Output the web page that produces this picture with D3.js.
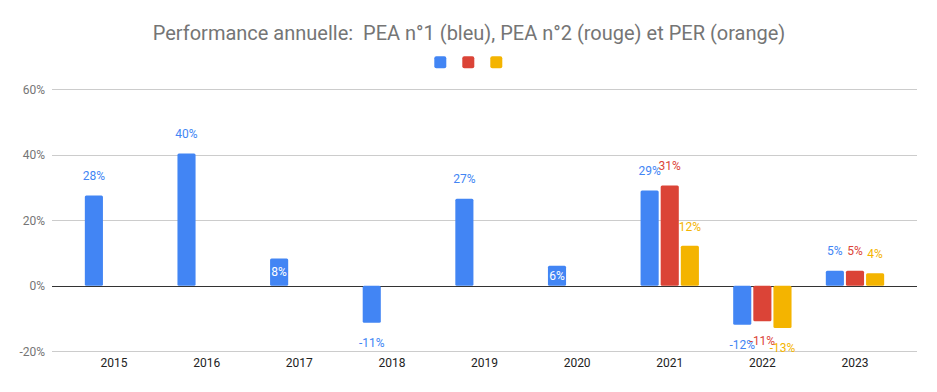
<!DOCTYPE html>
<html><head><meta charset="utf-8">
<script src="https://cdn.jsdelivr.net/npm/d3@7"></script>
<style>body{margin:0;background:#fff}svg{display:block;font-family:Roboto,Arial,sans-serif}</style>
</head><body><svg id="c" width="937" height="392"></svg>
<script>
const years = ["2015","2016","2017","2018","2019","2020","2021","2022","2023"];
const pea1 = [0.276, 0.404, 0.083, -0.113, 0.266, 0.061, 0.291, -0.119, 0.046];
const pea2 = [null, null, null, null, null, null, 0.306, -0.108, 0.046];
const per  = [null, null, null, null, null, null, 0.122, -0.129, 0.038];
const seriesNames = ["PEA n°1", "PEA n°2", "PER"];
const yTicks = [-0.2, 0, 0.2, 0.4, 0.6];
const title = "Performance annuelle:  PEA n°1 (bleu), PEA n°2 (rouge) et PER (orange)";

const colors = ["#4285F4", "#DB4437", "#F4B400"];
const seriesVals = [pea1, pea2, per];
const svg = d3.select("#c");
const W = 937;
const plotL = 52, plotR = 917;

const y = d3.scaleLinear().domain([-0.2, 0.6]).range([351.3, 89.3]);
const x = d3.scaleBand().domain(years).range([67.7, 901.3]).paddingInner(0.37).paddingOuter(0.185);
const xs = d3.scaleBand().domain(d3.range(3)).range([0, x.bandwidth()]).paddingInner(0.1);

// title
svg.append("text").attr("x", W/2 + 0.5).attr("y", 40).attr("text-anchor","middle")
  .style("white-space","pre").attr("xml:space","preserve")
  .attr("font-size", 20).attr("fill", "#757575").text(title);

// legend
seriesNames.forEach((n,i)=>{
  svg.append("rect").attr("x", 434.3 + i*28).attr("y", 56.3).attr("width", 12).attr("height", 12)
    .attr("rx", 2).attr("fill", colors[i]);
});

// gridlines
const fmt = d3.formatLocale({decimal:".", thousands:",", grouping:[3], currency:["","%"], minus:"-"}).format(".0%");
yTicks.forEach(t=>{
  svg.append("line").attr("x1", plotL).attr("x2", plotR).attr("y1", Math.round(y(t))+0.5).attr("y2", Math.round(y(t))+0.5)
    .attr("stroke", t===0 ? "#333" : "#ccc").attr("stroke-width", 1);
});
const yAxis = svg.append("g").attr("transform", `translate(${plotL},0)`)
  .call(d3.axisLeft(y).tickValues(yTicks).tickFormat(fmt).tickSize(0).tickPadding(7));
yAxis.select(".domain").remove();
yAxis.selectAll("text").attr("font-size", 12).attr("fill", "#757575").attr("font-family","Roboto");

// x axis labels
const xAxis = svg.append("g").attr("transform", `translate(0,358)`)
  .call(d3.axisBottom(x).tickSize(0).tickPadding(0));
xAxis.select(".domain").remove();
xAxis.selectAll("text").attr("font-size", 12).attr("fill", "#222").attr("font-family","Roboto").attr("dy","0.71em");

// bars
const bars = [];
seriesVals.forEach((vals,si)=>{
  vals.forEach((v,ci)=>{
    if (v === null) return;
    bars.push({si, ci, v});
  });
});
const g = svg.append("g");
bars.forEach(b=>{
  const bx = x(years[b.ci]) + xs(b.si);
  const y0 = y(0), y1 = y(b.v);
  const top = Math.min(y0,y1), h = Math.abs(y1-y0);
  g.append("rect").attr("x", bx).attr("y", top).attr("width", xs.bandwidth()).attr("height", h)
    .attr("rx", 1.5).attr("fill", colors[b.si]);
  const single = seriesVals.filter(s=>s[b.ci]!==null).length === 1;
  const inside = single && Math.abs(b.v) < 0.1;
  let ly, col = colors[b.si];
  if (inside) { ly = (y0+y1)/2; col = "#fff"; }
  else if (b.v >= 0) ly = y1 - 19.5;
  else ly = y1 + 20;
  g.append("text").attr("x", bx + xs.bandwidth()/2).attr("y", ly).attr("dy","0.35em")
    .attr("text-anchor","middle").attr("font-size", 12).attr("fill", col).text(fmt(b.v));
});
</script></body></html>
